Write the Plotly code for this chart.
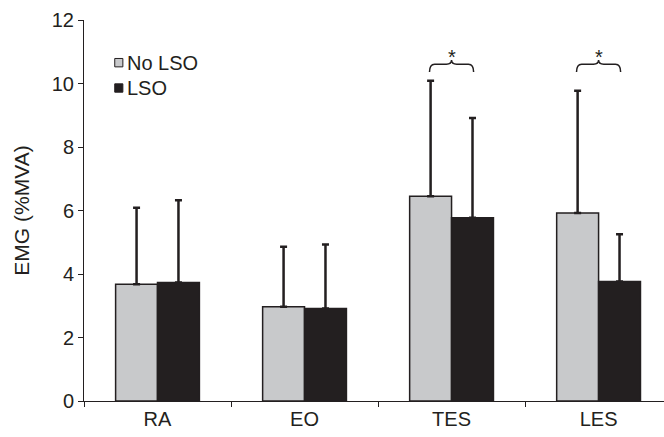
import plotly.graph_objects as go

categories = ["RA", "EO", "TES", "LES"]
no_lso_mean = [3.68, 2.97, 6.45, 5.92]
no_lso_sd = [2.41, 1.89, 3.64, 3.85]
lso_mean = [3.73, 2.91, 5.77, 3.76]
lso_sd = [2.59, 2.02, 3.14, 1.49]
sig_groups = [2, 3]  # indices of categories with significance bracket
y_ticks = [0, 2, 4, 6, 8, 10, 12]
series_names = ["No LSO", "LSO"]

GRAY = "#c8c9cb"
BLACK = "#231f20"
LINE = "#231f20"
FONT = "Liberation Sans, Arial, sans-serif"

fig = go.Figure()
for name, mean, sd, col in [(series_names[0], no_lso_mean, no_lso_sd, GRAY),
                            (series_names[1], lso_mean, lso_sd, BLACK)]:
    fig.add_trace(go.Bar(
        name=name, x=categories, y=mean,
        marker=dict(color=col, line=dict(color=LINE, width=1.5)),
        error_y=dict(type="data", symmetric=False, array=sd,
                     arrayminus=[0] * len(sd), color=LINE,
                     thickness=2.5, width=3.5),
    ))

x_range = [-0.5, 3.445]

# significance braces on an overlaid numeric axis
off = 0.15
y_end, y_mid, y_peak, y_star = 10.36, 10.61, 10.74, 10.84
for g in sig_groups:
    x0, x1, c = g - off, g + off, g
    r = 0.035
    path = (f"M {x0},{y_end} Q {x0},{y_mid} {x0 + r},{y_mid} "
            f"L {c - r},{y_mid} Q {c},{y_mid} {c},{y_peak} "
            f"Q {c},{y_mid} {c + r},{y_mid} "
            f"L {x1 - r},{y_mid} Q {x1},{y_mid} {x1},{y_end}")
    fig.add_shape(type="path", path=path, xref="x2", yref="y",
                  line=dict(color=LINE, width=1.5))
    fig.add_annotation(x=c, y=y_star, xref="x2", yref="y", text="*",
                       showarrow=False, yanchor="middle",
                       font=dict(size=20, color=LINE, family=FONT))

# custom legend (small squares + labels), paper coordinates
leg_x0, leg_x1 = 0.053, 0.067
leg_rows = [(0.888, GRAY), (0.8215, BLACK)]
for (yc, col), name in zip(leg_rows, series_names):
    fig.add_shape(type="rect", xref="paper", yref="paper",
                  x0=leg_x0, x1=leg_x1, y0=yc - 0.011, y1=yc + 0.011,
                  fillcolor=col, line=dict(color=LINE, width=1))
    fig.add_annotation(xref="paper", yref="paper", x=leg_x1 + 0.004, y=yc,
                       text=name, showarrow=False, xanchor="left",
                       yanchor="middle", font=dict(size=20, color=LINE, family=FONT))

fig.update_layout(
    width=664, height=437,
    margin=dict(l=84, r=0, t=20, b=36),
    paper_bgcolor="white", plot_bgcolor="white",
    barmode="group", bargap=0.43, bargroupgap=0,
    font=dict(family=FONT, size=19, color="#231f20"),
    showlegend=False,
    xaxis=dict(type="category", range=x_range, tickson="boundaries",
               ticks="outside", ticklen=5, tickcolor=LINE, automargin=False,
               showline=True, linecolor=LINE, linewidth=1,
               showgrid=False, tickfont=dict(size=20)),
    xaxis2=dict(overlaying="x", range=x_range, visible=False,
                showgrid=False, zeroline=False),
    yaxis=dict(range=[0, 12], tickvals=y_ticks, ticks="outside", ticklen=5,
               tickcolor=LINE, showline=True, linecolor=LINE, linewidth=1,
               automargin=False,
               showgrid=False, zeroline=False, tickfont=dict(size=20),
               title=dict(text="EMG (%MVA)", font=dict(size=21), standoff=16)),
)

fig.write_html("out.html", config={"displayModeBar": False},
               post_script="document.body.style.margin='0';"
                           "document.body.style.overflow='hidden';")
